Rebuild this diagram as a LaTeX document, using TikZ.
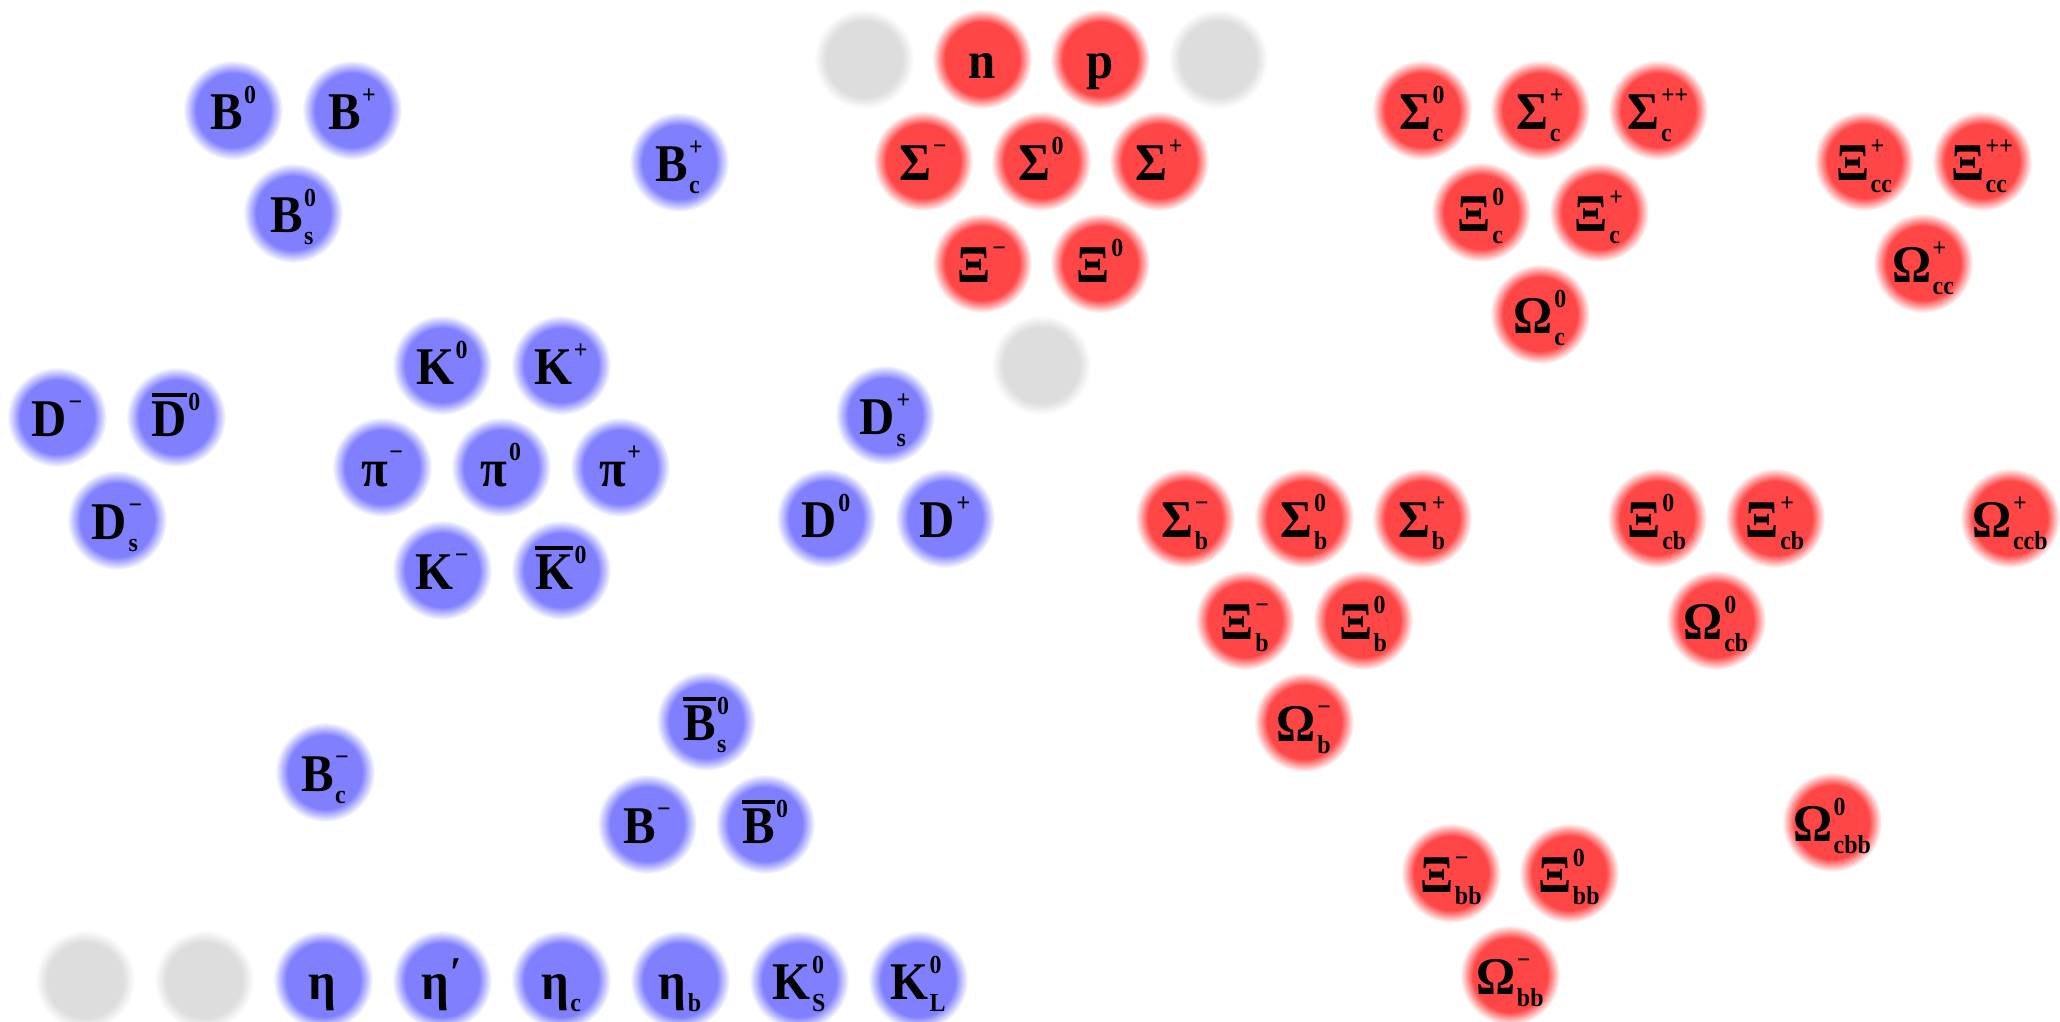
\documentclass[tikz,border=0pt]{standalone}
\usepackage{fontspec}
\setmainfont{Liberation Serif}
\newfontfamily\ballfont[FakeStretch=0.92]{Liberation Serif}
\definecolor{mesonblue}{RGB}{128,128,255}
\definecolor{baryonred}{RGB}{255,70,70}
\definecolor{emptygray}{RGB}{221,221,221}
\pgfdeclareradialshading{blueball}{\pgfpoint{0bp}{0bp}}{color(0bp)=(mesonblue); color(18.5bp)=(mesonblue); color(25bp)=(white); color(50bp)=(white)}
\pgfdeclareradialshading{redball}{\pgfpoint{0bp}{0bp}}{color(0bp)=(baryonred); color(18.5bp)=(baryonred); color(25bp)=(white); color(50bp)=(white)}
\pgfdeclareradialshading{grayball}{\pgfpoint{0bp}{0bp}}{color(0bp)=(emptygray); color(19bp)=(emptygray); color(25bp)=(white); color(50bp)=(white)}
\newcommand\hlab[3]{#1\kern1.5pt\setbox0=\hbox{\fontsize{26}{26}\selectfont\raisebox{26pt}{#2}}\setbox2=\hbox{\fontsize{26}{26}\selectfont\raisebox{-12pt}{#3}}\ifdim\wd0>\wd2\relax\rlap{\box2}\box0\else\rlap{\box0}\box2\fi}
\newcommand\obar[1]{\vbox{\hrule height 4pt\kern4pt\hbox{#1}}}
\newcommand\primetick{{\fontsize{44}{44}\selectfont\raisebox{-14pt}{′}}}
\tikzset{
  ball/.style={circle, minimum size=100pt, inner sep=0pt, text height=38pt, text depth=0pt,
    font=\ballfont\fontsize{53}{53}\selectfont\bfseries, text=black},
  mes/.style={ball, shading=blueball},
  bar/.style={ball, shading=redball},
  emp/.style={ball, shading=grayball}
}
\begin{document}
\begin{tikzpicture}[x=1pt,y=-1pt]
\useasboundingbox (0,0) rectangle (2060,1021);
\fill[white] (0,0) rectangle (2060,1021);
\clip (0,0) rectangle (2060,1021);
% ---------- mesons ----------
\node[mes] (B0)   at (233,110) {\hlab{B}{0}{}};
\node[mes] (Bp)   at (352,110) {\hlab{B}{+}{}};
\node[mes] (Bs0)  at (293,213) {\hlab{B}{0}{s}};
\node[mes] (Bcp)  at (679,162) {\hlab{B}{+}{c}};
\node[mes] (K0)   at (442,365) {\hlab{K}{0}{}};
\node[mes] (Kp)   at (561,365) {\hlab{K}{+}{}};
\node[mes] (pim)  at (382,467) {\hlab{π}{−}{}};
\node[mes] (pi0)  at (501,467) {\hlab{π}{0}{}};
\node[mes] (pip)  at (620,467) {\hlab{π}{+}{}};
\node[mes] (Km)   at (442,570) {\hlab{K}{−}{}};
\node[mes] (K0b)  at (561,570) {\hlab{\obar{K}}{0}{}};
\node[mes] (Dm)   at (57,417)  {\hlab{D}{−}{}};
\node[mes] (D0b)  at (176,417) {\hlab{\obar{D}}{0}{}};
\node[mes] (Dsm)  at (117,520) {\hlab{D}{−}{s}};
\node[mes] (Dsp)  at (885,415) {\hlab{D}{+}{s}};
\node[mes] (D0)   at (826,518) {\hlab{D}{0}{}};
\node[mes] (Dp)   at (945,518) {\hlab{D}{+}{}};
\node[mes] (Bcm)  at (325,772) {\hlab{B}{−}{c}};
\node[mes] (Bs0b) at (706,721) {\hlab{\obar{B}}{0}{s}};
\node[mes] (Bm)   at (647,824) {\hlab{B}{−}{}};
\node[mes] (B0b)  at (765,824) {\hlab{\obar{B}}{0}{}};
\node[emp] (e1)   at (85,980)  {};
\node[emp] (e2)   at (204,980) {};
\node[mes] (eta)  at (323,980) {\hlab{η}{}{}};
\node[mes] (etap) at (442,980) {\hlab{η}{\primetick}{}};
\node[mes] (etac) at (561,980) {\hlab{η}{}{c}};
\node[mes] (etab) at (680,980) {\hlab{η}{}{b}};
\node[mes] (KS)   at (799,980) {\hlab{K}{0}{S}};
\node[mes] (KL)   at (918,980) {\hlab{K}{0}{L}};
% ---------- baryons ----------
\node[emp] (e3)   at (864,59)   {};
\node[bar] (n)    at (982,59)   {n};
\node[bar] (p)    at (1100,59)  {p};
\node[emp] (e4)   at (1218,59)  {};
\node[bar] (Sm)   at (923,161)  {\hlab{Σ}{−}{}};
\node[bar] (S0)   at (1041,161) {\hlab{Σ}{0}{}};
\node[bar] (Sp)   at (1159,161) {\hlab{Σ}{+}{}};
\node[bar] (Xm)   at (982,263)  {\hlab{Ξ}{−}{}};
\node[bar] (X0)   at (1100,263) {\hlab{Ξ}{0}{}};
\node[emp] (e5)   at (1041,365) {};
\node[bar] (Sc0)  at (1422,110) {\hlab{Σ}{0}{c}};
\node[bar] (Scp)  at (1540,110) {\hlab{Σ}{+}{c}};
\node[bar] (Scpp) at (1658,110) {\hlab{Σ}{++}{c}};
\node[bar] (Xc0)  at (1481,212) {\hlab{Ξ}{0}{c}};
\node[bar] (Xcp)  at (1599,212) {\hlab{Ξ}{+}{c}};
\node[bar] (Oc0)  at (1540,314) {\hlab{Ω}{0}{c}};
\node[bar] (Xccp) at (1864,161) {\hlab{Ξ}{+}{cc}};
\node[bar] (Xccpp) at (1982,161) {\hlab{Ξ}{++}{cc}};
\node[bar] (Occp) at (1923,263) {\hlab{Ω}{+}{cc}};
\node[bar] (Sbm)  at (1185,518) {\hlab{Σ}{−}{b}};
\node[bar] (Sb0)  at (1304,518) {\hlab{Σ}{0}{b}};
\node[bar] (Sbp)  at (1422,518) {\hlab{Σ}{+}{b}};
\node[bar] (Xbm)  at (1245,620) {\hlab{Ξ}{−}{b}};
\node[bar] (Xb0)  at (1363,620) {\hlab{Ξ}{0}{b}};
\node[bar] (Obm)  at (1304,722) {\hlab{Ω}{−}{b}};
\node[bar] (Xcb0) at (1657,518) {\hlab{Ξ}{0}{cb}};
\node[bar] (Xcbp) at (1775,518) {\hlab{Ξ}{+}{cb}};
\node[bar] (Ocb0) at (1716,620) {\hlab{Ω}{0}{cb}};
\node[bar] (Occbp) at (2010,518) {\hlab{Ω}{+}{ccb}};
\node[bar] (Ocbb0) at (1832,822) {\hlab{Ω}{0}{cbb}};
\node[bar] (Xbbm) at (1451,873) {\hlab{Ξ}{−}{bb}};
\node[bar] (Xbb0) at (1569,873) {\hlab{Ξ}{0}{bb}};
\node[bar] (Obbm) at (1510,975) {\hlab{Ω}{−}{bb}};
\end{tikzpicture}
\end{document}
